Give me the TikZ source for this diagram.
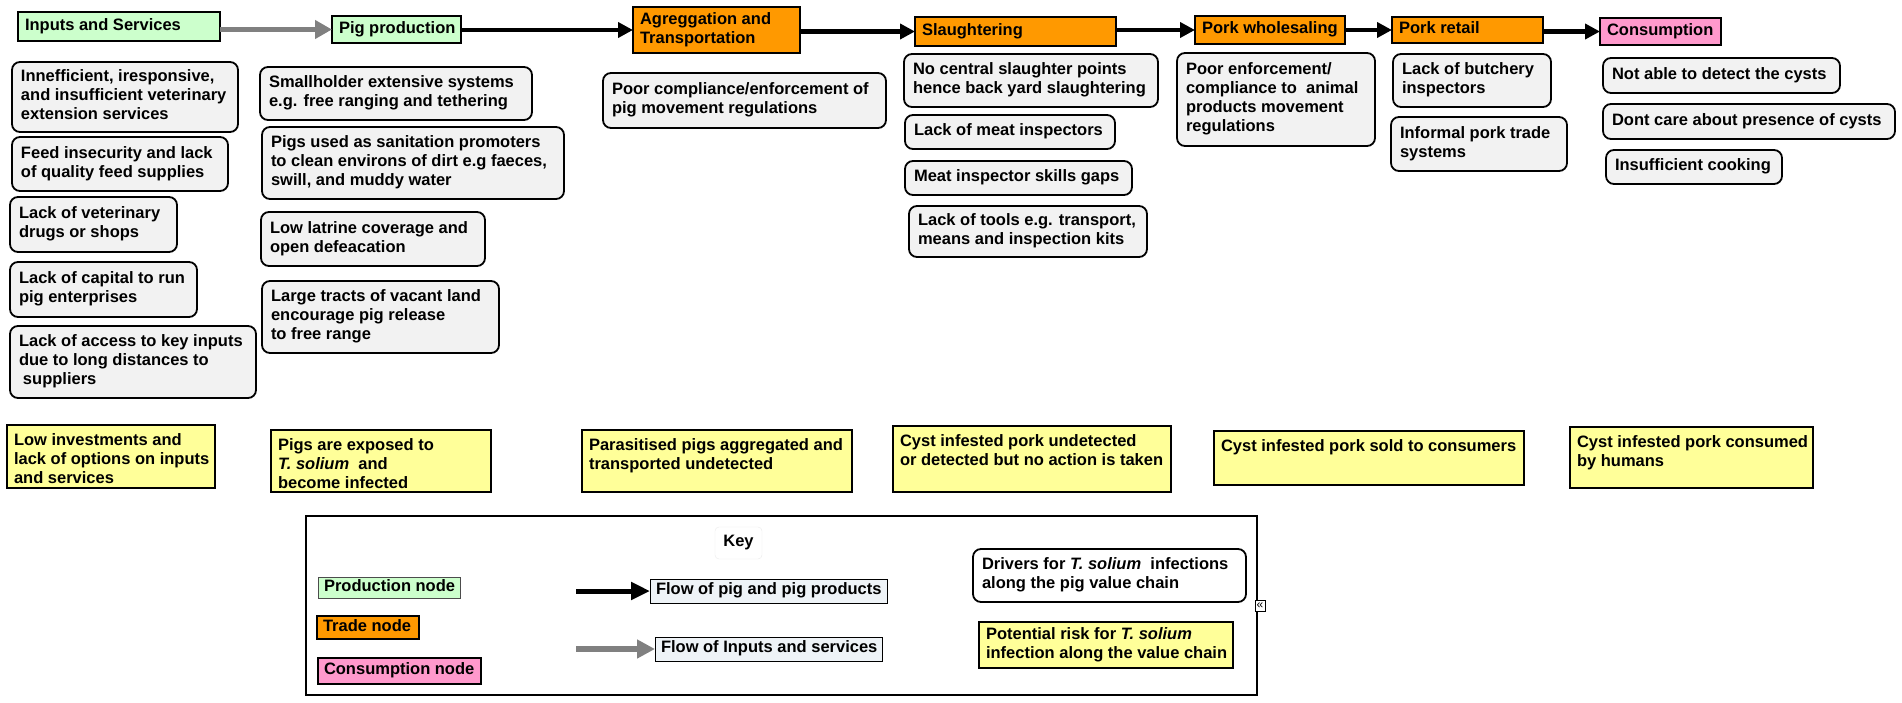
\documentclass[tikz,border=0pt]{standalone}
\usepackage{fontspec}
\setmainfont{Liberation Sans}
\usetikzlibrary{arrows.meta}

\definecolor{nodegreen}{RGB}{204,255,204}
\definecolor{nodeorange}{RGB}{255,153,0}
\definecolor{nodepink}{RGB}{255,153,204}
\definecolor{drvgray}{RGB}{242,242,242}
\definecolor{riskyellow}{RGB}{255,255,153}
\definecolor{flowblue}{RGB}{238,243,247}
\definecolor{inpgray}{RGB}{128,128,128}

\tikzset{
  vcbox/.style={anchor=north west, inner sep=0pt, outer sep=0pt,
    font=\fontsize{16.5}{19}\selectfont\bfseries},
  chain/.style={vcbox, draw, line width=2.6pt,
    execute at begin node={\def\bxpad{7pt}\def\bxtop{\vss}}},
  prodnode/.style={chain, fill=nodegreen},
  tradenode/.style={chain, fill=nodeorange},
  consnode/.style={chain, fill=nodepink},
  driver/.style={vcbox, draw, line width=1.8pt, rounded corners=8pt, fill=drvgray,
    execute at begin node={\def\bxpad{9pt}\def\bxtop{\vss}}},
  risk/.style={vcbox, draw, line width=1.8pt, fill=riskyellow,
    execute at begin node={\def\bxpad{7pt}\def\bxtop{}}},
  keyitem/.style={vcbox, draw, line width=1pt,
    execute at begin node={\def\bxpad{6pt}\def\bxtop{\vss}}},
  keylbl/.style={draw=black!8, rounded corners=4pt, fill=white, minimum width=47pt,
    minimum height=32pt, font=\fontsize{16.5}{19}\selectfont\bfseries},
  flowpig/.style={line width=4.5pt, -{Triangle[length=15pt,width=15pt]}},
  flowinp/.style={line width=5.5pt, draw=inpgray, -{Triangle[length=17pt,width=18pt]}}
}

% box from (x1,y1) to (x2,y2), text set as lines
\newcommand{\vcnode}[7]{%
  \pgfmathsetmacro{\bw}{#5-#3}%
  \pgfmathsetmacro{\bh}{#6-#4}%
  \node[#1] (#2) at (#3,#4) {\vbox to \bh pt{\vskip\bxpad\bxtop
      \hbox to \bw pt{\hskip\bxpad\begin{tabular}[t]{@{}l@{}}#7\end{tabular}\hss}%
      \vss\vskip\bxpad}};}

\begin{document}
\begin{tikzpicture}[x=1pt,y=-1pt]
    \useasboundingbox (0,0) rectangle (1902,703);
    % value chain
    \vcnode{prodnode}{inputs}{18}{12}{220}{41}{Inputs and Services}
    \vcnode{prodnode}{pigprod}{332}{16}{461}{43}{Pig production}
    \vcnode{tradenode}{aggreg}{633}{7}{800}{53}{Agreggation and\\Transportation}
    \vcnode{tradenode}{slaught}{915}{17}{1116}{46}{Slaughtering}
    \vcnode{tradenode}{wholesale}{1195}{16}{1345}{44}{Pork wholesaling}
    \vcnode{tradenode}{retail}{1392}{17}{1543}{43}{Pork retail}
    \vcnode{consnode}{consum}{1600}{18}{1721}{45}{Consumption}
    \draw[flowinp] (inputs.east |- pigprod.west) -- (pigprod.west);
    \draw[flowpig] (pigprod.east |- aggreg.west) -- (aggreg.west);
    \draw[flowpig] (aggreg.east |- slaught.west) -- (slaught.west);
    \draw[flowpig] (slaught.east |- wholesale.west) -- (wholesale.west);
    \draw[flowpig] (wholesale.east |- retail.west) -- (retail.west);
    \draw[flowpig] (retail.east |- consum.west) -- (consum.west);
    % drivers
    \vcnode{driver}{inpA}{12}{62}{238}{132}{Innefficient, iresponsive,\\and insufficient veterinary\\extension services}
    \vcnode{driver}{inpB}{12}{137}{228}{191}{Feed insecurity and lack\\of quality feed supplies}
    \vcnode{driver}{inpC}{10}{197}{177}{252}{Lack of veterinary\\drugs or shops}
    \vcnode{driver}{inpD}{10}{262}{197}{317}{Lack of capital to run\\pig enterprises}
    \vcnode{driver}{inpE}{10}{326}{256}{398}{Lack of access to key inputs\\due to long distances to\\\hspace{4pt}suppliers}
    \vcnode{driver}{pigA}{260}{67}{532}{120}{Smallholder extensive systems\\e.g. free ranging and tethering}
    \vcnode{driver}{pigB}{262}{127}{564}{199}{Pigs used as sanitation promoters\\to clean environs of dirt e.g faeces,\\swill, and muddy water}
    \vcnode{driver}{pigC}{261}{212}{485}{266}{Low latrine coverage and\\open defeacation}
    \vcnode{driver}{pigD}{262}{281}{499}{353}{Large tracts of vacant land\\encourage pig release\\to free range}
    \vcnode{driver}{aggA}{603}{73}{886}{128}{Poor compliance/enforcement of\\pig movement regulations}
    \vcnode{driver}{slaA}{904}{54}{1158}{107}{No central slaughter points\\hence back yard slaughtering}
    \vcnode{driver}{slaB}{905}{115}{1115}{149}{Lack of meat inspectors}
    \vcnode{driver}{slaC}{905}{161}{1132}{195}{Meat inspector skills gaps}
    \vcnode{driver}{slaD}{909}{206}{1147}{257}{Lack of tools e.g. transport,\\means and inspection kits}
    \vcnode{driver}{whoA}{1177}{53}{1375}{146}{Poor enforcement/\\compliance to\ \ animal\\products movement\\regulations}
    \vcnode{driver}{retA}{1393}{54}{1551}{107}{Lack of butchery\\inspectors}
    \vcnode{driver}{retB}{1391}{117}{1567}{171}{Informal pork trade\\systems}
    \vcnode{driver}{conA}{1603}{58}{1840}{93}{Not able to detect the cysts}
    \vcnode{driver}{conB}{1603}{104}{1895}{139}{Dont care about presence of cysts}
    \vcnode{driver}{conC}{1606}{150}{1782}{184}{Insufficient cooking}
    % risks
    \vcnode{risk}{riskInp}{7}{425}{215}{488}{Low investments and\\lack of options on inputs\\and services}
    \vcnode{risk}{riskPig}{271}{430}{491}{492}{Pigs are exposed to\\\textit{T. solium}\ \ and\\become infected}
    \vcnode{risk}{riskAgg}{582}{430}{852}{492}{Parasitised pigs aggregated and\\transported undetected}
    \vcnode{risk}{riskSla}{893}{426}{1171}{492}{Cyst infested pork undetected\\or detected but no action is taken}
    \vcnode{risk}{riskRet}{1214}{431}{1524}{485}{Cyst infested pork sold to consumers}
    \vcnode{risk}{riskCon}{1570}{427}{1813}{488}{Cyst infested pork consumed\\by humans}
    % key
    \draw[line width=2pt] (306,516) rectangle (1257,695);
    \node[keylbl] (key) at (738.5,543) {Key};
    \vcnode{keyitem, fill=nodegreen, draw=black!70}{kprod}{318}{577}{460}{598}{Production node}
    \vcnode{keyitem, fill=nodeorange, line width=1.6pt}{ktrade}{317}{616}{419}{639}{Trade node}
    \vcnode{keyitem, fill=nodepink, line width=1.6pt}{kcons}{318}{658}{481}{684}{Consumption node}
    \vcnode{keyitem, fill=flowblue}{kflowpig}{650}{579}{887}{603}{Flow of pig and pig products}
    \vcnode{keyitem, fill=flowblue}{kflowinp}{655}{637}{882}{661}{Flow of Inputs and services}
    \vcnode{driver, fill=white}{kdriver}{973}{549}{1246}{602}{Drivers for \textit{T. solium}\ \ infections\\along the pig value chain}
    \vcnode{risk, line width=1.5pt, execute at begin node={\def\bxpad{7pt}\def\bxtop{\vss}}}{krisk}{979}{622}{1233}{668}{Potential risk for \textit{T. solium}\\infection along the value chain}
    \coordinate (kpigtail) at (576,591);
    \coordinate (kinptail) at (576,649);
    \draw[flowpig, line width=5pt, -{Triangle[length=19pt,width=17pt]}] (kpigtail) -- (kflowpig.west);
    \draw[flowinp, line width=6pt, -{Triangle[length=18pt,width=18pt]}] (kinptail) -- (kflowinp.west);
    \node[draw, line width=0.8pt, fill=white, inner sep=0pt, minimum width=10pt, minimum height=11pt,
      font=\fontsize{12}{12}\selectfont] (collapse) at (1260,605.5) {«};
\end{tikzpicture}
\end{document}
